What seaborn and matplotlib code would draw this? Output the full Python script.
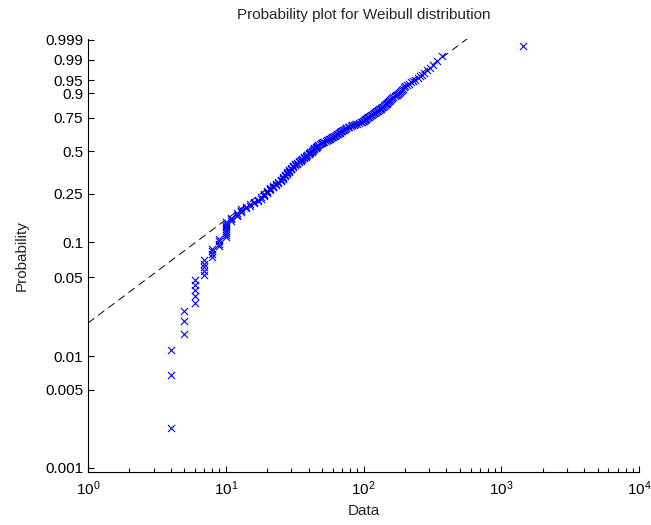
import numpy as np
import pandas as pd
import matplotlib
matplotlib.use('Agg')
import matplotlib.pyplot as plt
import seaborn as sns
from matplotlib.ticker import LogLocator, FixedLocator, FixedFormatter

# Sorted sample values (integer data)
data_values = [
    4, 4, 4,
    5, 5, 5,
    6, 6, 6, 6, 6,
    7, 7, 7, 7, 7,
    8, 8, 8, 8,
    9, 9, 9, 9,
    10, 10, 10, 10, 10, 10, 10, 10, 10,
    11, 11, 11, 12, 12,
    12, 13, 13, 13, 14, 14, 15, 15, 16, 16, 17,
    17, 18, 18, 19, 19, 19, 20, 20, 20, 21, 21, 21, 22, 22, 22, 23, 23,
    24, 24, 25, 25, 25, 26, 26, 26, 27, 27, 27, 28, 28, 28, 29, 29,
    29, 30, 30, 30, 31, 31, 31, 32, 32, 33, 33, 34, 34, 35, 35, 36,
    36, 37, 37, 38, 38, 39, 39, 40, 40, 41, 41, 42, 42, 43, 43, 44,
    44, 45, 45, 46, 46, 47, 47, 48, 49, 50,
    51, 52, 53, 54, 55, 56, 57, 58, 59, 60, 61, 62, 63, 64, 65, 66,
    67, 68, 69, 70, 71, 72, 73, 74, 75, 77, 79, 81, 83, 85, 87, 89, 92,
    96, 97, 99, 100, 102, 103, 105, 106, 108, 110, 111, 113, 115, 117,
    119, 121, 123, 125, 127, 129, 131, 133, 135, 137, 139, 141, 143,
    145, 147, 149, 151, 153, 154, 156,
    159, 162, 165, 168, 171, 174, 177, 180, 183, 186, 189, 192, 196, 201, 207,
    215, 222, 230, 238, 247, 256, 265, 275, 288, 302, 320,
    340, 372, 1440,
]

# Reference line (Weibull fit) parameters
fit_shape = 0.926
fit_scale = 68.5

prob_ticks = [0.001, 0.005, 0.01, 0.05, 0.1, 0.25, 0.5, 0.75, 0.9, 0.95, 0.99, 0.999]
prob_labels = ['0.001', '0.005', '0.01', '0.05', '0.1', '0.25', '0.5', '0.75',
               '0.9', '0.95', '0.99', '0.999']


def weibull_y(p):
    # Weibull probability paper: log10(-ln(1-p))
    p = np.asarray(p, dtype=float)
    return np.log10(-np.log1p(-p))


# Plotting positions as used by wblplot
x = np.sort(np.array(data_values, dtype=float))
n = len(x)
pp = (np.arange(1, n + 1) - 0.5) / n
df = pd.DataFrame({'Data': x, 'y': weibull_y(pp)})

line_x = np.array([1.0, 1e4])
line_y = fit_shape * np.log10(line_x) - fit_shape * np.log10(fit_scale)
line_df = pd.DataFrame({'Data': line_x, 'y': line_y})

sns.set_style('ticks')
plt.rcParams['font.family'] = ['Liberation Sans', 'DejaVu Sans']
plt.rcParams['mathtext.default'] = 'regular'
plt.rcParams['font.size'] = 11

fig = plt.figure(figsize=(6.51, 5.25), dpi=100)
ax = fig.add_axes([0.1352, 0.101, 0.8464, 0.8248])

ax.plot(line_df['Data'], line_df['y'], color='black', linewidth=0.7,
        linestyle=(0, (8, 5)), zorder=1)
sns.scatterplot(data=df, x='Data', y='y', marker='x', color='blue',
                s=26, linewidth=0.8, ax=ax, zorder=2)

ax.set_xscale('log')
ax.set_xlim(1, 1e4)
ax.set_ylim(-3.036, 0.848)

ax.yaxis.set_major_locator(FixedLocator(weibull_y(prob_ticks)))
ax.yaxis.set_major_formatter(FixedFormatter(prob_labels))
ax.yaxis.set_minor_locator(FixedLocator([]))
ax.xaxis.set_major_locator(LogLocator(base=10, numticks=10))
ax.xaxis.set_minor_locator(LogLocator(base=10, subs=np.arange(2, 10), numticks=10))

ax.tick_params(axis='both', which='major', direction='in', length=4, width=0.8,
               labelsize=11, color='black', labelcolor='black')
ax.tick_params(axis='both', which='minor', direction='in', length=3, width=0.8,
               color='black')
ax.tick_params(axis='x', which='major', pad=5)

for side in ['top', 'right']:
    ax.spines[side].set_visible(False)
for side in ['left', 'bottom']:
    ax.spines[side].set_color('black')
    ax.spines[side].set_linewidth(0.8)

ax.set_title('Probability plot for Weibull distribution', fontsize=11, pad=14.5)
ax.set_xlabel('Data', fontsize=11, labelpad=5)
ax.set_ylabel('Probability', fontsize=11, labelpad=12)

fig.savefig('out.png', dpi=100, facecolor='white')
